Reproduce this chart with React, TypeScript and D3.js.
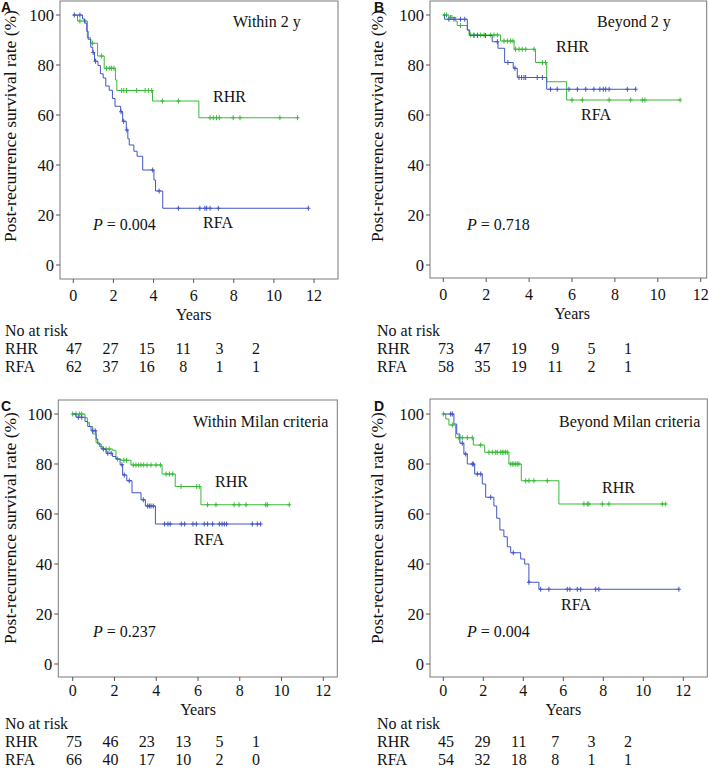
import React from "react";
import * as d3 from "d3";

// ---- data ----
// steps: [years, survival %] after each drop; censor: years of "+" marks
const aTitle = "Within 2 y";
const aP = "0.004";
const aRhrSteps: [number, number][] = [
	[0.21, 97.6], [0.7, 90.9], [0.86, 88.7], [1.21, 83.6], [1.54, 78.7],
	[2.1, 74.0], [2.17, 69.8], [3.95, 65.6], [6.26, 58.9],
];
const aRhrCensor = [0.33, 0.58, 0.96, 1.41, 1.66, 1.82, 1.91, 2.03, 2.41, 2.52, 2.65, 3.16, 3.58, 3.74, 3.91, 4.44, 5.24, 6.82, 6.98, 7.14, 7.28, 7.97, 8.31, 10.3, 11.18];
const aRfaSteps: [number, number][] = [
	[0.46, 98.4], [0.56, 96.8], [0.67, 93.5], [0.74, 90.3], [0.87, 87.1],
	[0.97, 85.0], [1.06, 81.5], [1.23, 79.8], [1.35, 76.5], [1.49, 74.8],
	[1.62, 71.6], [1.79, 69.9], [1.95, 66.6], [2.08, 63.5], [2.36, 61.3],
	[2.46, 57.5], [2.64, 54.0], [2.72, 50.5], [2.79, 48.0], [3.02, 45.5],
	[3.18, 43.5], [3.46, 38.0], [4.02, 34.0], [4.1, 29.6], [4.46, 22.7],
];
const aRfaCensor = [0.05, 0.33, 0.99, 1.11, 2.38, 2.51, 2.67, 3.96, 4.28, 5.24, 6.31, 6.56, 6.65, 6.82, 7.23, 11.72];
const aRiskRhr = [47, 27, 15, 11, 3, 2];
const aRiskRfa = [62, 37, 16, 8, 1, 1];

const bTitle = "Beyond 2 y";
const bP = "0.718";
const bRhrSteps: [number, number][] = [
	[0.26, 99.0], [0.58, 97.5], [0.65, 95.8], [1.12, 94.0], [1.2, 92.0],
	[2.67, 89.6], [3.3, 86.3], [4.3, 81.0], [4.82, 73.3], [5.75, 66.0],
];
const bRhrCensor = [0.05, 0.15, 0.34, 0.4, 0.8, 1.28, 1.43, 1.59, 1.74, 1.9, 2.21, 2.36, 2.52, 2.83, 2.99, 3.14, 3.25, 3.37, 3.53, 3.68, 3.84, 4.23, 4.62, 4.77, 6.0, 6.48, 7.73, 8.74, 9.28, 9.4, 11.04];
const bRfaSteps: [number, number][] = [
	[0.06, 98.3], [1.12, 94.0], [1.23, 91.8], [2.28, 89.3], [2.55, 86.7],
	[2.86, 81.0], [3.26, 78.7], [3.45, 75.0], [4.82, 70.3],
];
const bRfaCensor = [0.26, 0.5, 0.8, 1.0, 1.43, 1.59, 1.97, 2.52, 3.01, 3.34, 3.53, 3.65, 3.76, 3.84, 4.38, 4.62, 5.0, 5.31, 5.86, 6.25, 6.64, 7.02, 7.3, 7.46, 7.57, 7.73, 8.58, 8.97];
const bRiskRhr = [73, 47, 19, 9, 5, 1];
const bRiskRfa = [58, 35, 19, 11, 2, 1];

const cTitle = "Within Milan criteria";
const cP = "0.237";
const cRhrSteps: [number, number][] = [
	[0.59, 98.5], [0.7, 96.5], [0.8, 95.0], [0.96, 92.0], [1.12, 88.5],
	[1.28, 87.0], [1.44, 86.0], [1.9, 85.5], [2.07, 82.0], [2.31, 81.5],
	[2.79, 79.6], [4.28, 76.0], [4.91, 71.0], [6.14, 63.7],
];
const cRhrCensor = [0.0, 0.16, 0.32, 0.43, 1.6, 1.75, 2.15, 2.45, 2.58, 2.9, 3.03, 3.16, 3.27, 3.4, 3.56, 3.75, 3.99, 4.2, 4.47, 4.63, 4.79, 5.19, 5.94, 6.06, 6.46, 6.86, 7.73, 7.97, 8.3, 9.24, 9.32, 10.37];
const cRfaSteps: [number, number][] = [
	[0.16, 98.7], [0.59, 97.0], [0.72, 95.0], [0.88, 93.3], [1.12, 90.0],
	[1.2, 88.0], [1.36, 86.0], [1.6, 84.3], [1.91, 83.0], [2.07, 82.0],
	[2.27, 79.7], [2.39, 75.6], [2.59, 73.3], [2.84, 68.5], [3.27, 65.7],
	[3.48, 63.2], [3.96, 56.0],
];
const cRfaCensor = [0.27, 0.43, 0.96, 1.08, 1.47, 1.68, 1.84, 2.36, 2.47, 2.71, 3.38, 3.59, 3.67, 3.75, 3.86, 4.4, 4.56, 4.67, 5.2, 5.36, 5.76, 5.92, 6.3, 6.46, 6.7, 7.02, 7.15, 7.26, 7.37, 8.6, 8.84, 9.0];
const cRiskRhr = [75, 46, 23, 13, 5, 1];
const cRiskRfa = [66, 40, 17, 10, 2, 0];

const dTitle = "Beyond Milan criteria";
const dP = "0.004";
const dRhrSteps: [number, number][] = [
	[0.12, 98.0], [0.28, 95.6], [0.62, 90.5], [1.5, 87.6], [2.07, 84.7],
	[3.28, 80.0], [3.9, 73.3], [5.78, 64.0],
];
const dRhrCensor = [0.0, 0.45, 0.78, 0.95, 1.2, 1.45, 1.87, 2.28, 2.45, 2.62, 2.7, 2.87, 2.95, 3.03, 3.12, 3.2, 3.37, 3.45, 3.53, 3.62, 3.7, 3.78, 4.12, 4.28, 4.53, 5.2, 7.03, 7.2, 7.28, 7.95, 8.28, 10.95, 11.12];
const dRfaSteps: [number, number][] = [
	[0.53, 96.0], [0.67, 92.0], [0.83, 88.3], [1.03, 84.0], [1.2, 80.0],
	[1.57, 76.0], [1.95, 72.0], [2.12, 66.7], [2.53, 63.2], [2.67, 58.3],
	[2.83, 53.6], [3.03, 50.9], [3.2, 46.9], [3.37, 44.5], [3.87, 42.0],
	[4.07, 40.0], [4.28, 32.7], [4.78, 29.9],
];
const dRfaCensor = [0.37, 0.45, 0.95, 1.12, 1.45, 1.5, 1.7, 1.87, 2.37, 3.5, 4.28, 4.87, 5.28, 6.2, 6.33, 6.7, 6.87, 7.62, 7.78, 11.78];
const dRiskRhr = [45, 29, 11, 7, 3, 2];
const dRiskRfa = [54, 32, 18, 8, 1, 1];

const xTicks = [0, 2, 4, 6, 8, 10, 12];
const yTicks = [0, 20, 40, 60, 80, 100];

const GREEN = "#38ba38";
const BLUE = "#4155c6";
const SERIF = "'Liberation Serif', 'Times New Roman', serif";

// ---- layout (pixels) ----
const panels = [
	{
		letter: "A", title: aTitle, p: aP,
		rhr: { steps: aRhrSteps, censor: aRhrCensor }, rfa: { steps: aRfaSteps, censor: aRfaCensor },
		riskRhr: aRiskRhr, riskRfa: aRiskRfa,
		box: [60, 1, 338, 279], xr: [73.3, 314], yr: [265, 15],
		titleAt: [233, 27], rhrAt: [213, 102], rfaAt: [203, 228], pAt: [93, 230],
		letterAt: [1, 12], ylabAt: [10, 126],
		tickDy: 22, yearsDy: 41,
		tableX: [5, 74, 256], tableY: [336, 354, 372],
	},
	{
		letter: "B", title: bTitle, p: bP,
		rhr: { steps: bRhrSteps, censor: bRhrCensor }, rfa: { steps: bRfaSteps, censor: bRfaCensor },
		riskRhr: bRiskRhr, riskRfa: bRiskRfa,
		box: [430, 1, 706.7, 278], xr: [443.3, 700.7], yr: [265, 15],
		titleAt: [597, 27], rhrAt: [556, 52], rfaAt: [581, 120], pAt: [467, 230],
		letterAt: [374, 12], ylabAt: [377, 126],
		tickDy: 22, yearsDy: 41,
		tableX: [377, 446, 628], tableY: [336, 354, 372],
	},
	{
		letter: "C", title: cTitle, p: cP,
		rhr: { steps: cRhrSteps, censor: cRhrCensor }, rfa: { steps: cRfaSteps, censor: cRfaCensor },
		riskRhr: cRiskRhr, riskRfa: cRiskRfa,
		box: [58.3, 400, 337.3, 677], xr: [72.7, 323.3], yr: [664, 414],
		titleAt: [193, 427], rhrAt: [215, 487], rfaAt: [194, 545], pAt: [93, 637],
		letterAt: [1, 411], ylabAt: [10, 528],
		tickDy: 19, yearsDy: 38,
		tableX: [5, 74, 256], tableY: [729, 747, 765],
	},
	{
		letter: "D", title: dTitle, p: dP,
		rhr: { steps: dRhrSteps, censor: dRhrCensor }, rfa: { steps: dRfaSteps, censor: dRfaCensor },
		riskRhr: dRiskRhr, riskRfa: dRiskRfa,
		box: [430, 399, 707.3, 677], xr: [443.3, 683.3], yr: [664, 414],
		titleAt: [559, 427], rhrAt: [602, 493], rfaAt: [561, 610], pAt: [467, 637],
		letterAt: [374, 411], ylabAt: [377, 528],
		tickDy: 19, yearsDy: 38,
		tableX: [377, 446, 628], tableY: [729, 747, 765],
	},
];

function survivalAt(steps: [number, number][], t: number) {
	let s = 100;
	for (const [st, sv] of steps) if (st <= t) s = sv;
	return s;
}

const Curve = ({ steps, censor, color, x, y }) => {
	const end = Math.max(d3.max(censor) ?? 0, d3.max(steps, (d) => d[0]) ?? 0);
	const pts: [number, number][] = [[0, 100], ...steps, [end, steps[steps.length - 1][1]]];
	const line = d3
		.line<[number, number]>()
		.x((d) => x(d[0]))
		.y((d) => y(d[1]))
		.curve(d3.curveStepAfter);
	return (
		<g>
			<path d={line(pts) ?? ""} fill="none" stroke={color} strokeWidth={1} />
			{censor.map((c, i) => {
				const cx = x(c);
				const cy = y(survivalAt(steps, c));
				return (
					<path
						key={i}
						d={`M${cx},${cy - 2.5}V${cy + 2.5}M${cx - 2},${cy}H${cx + 2}`}
						stroke={color}
						strokeWidth={1}
					/>
				);
			})}
		</g>
	);
};

const Panel = ({ cfg }) => {
	const [l, t, r, b] = cfg.box;
	const x = d3.scaleLinear().domain([0, 12]).range(cfg.xr);
	const y = d3.scaleLinear().domain([0, 100]).range(cfg.yr);
	const col = d3.scaleLinear().domain([0, 5]).range([cfg.tableX[1], cfg.tableX[2]]);
	return (
		<g fontFamily={SERIF} fill="#111">
			<rect x={l} y={t} width={r - l} height={b - t} fill="none" stroke="#7a7a7a" strokeWidth={1} />
			{yTicks.map((v) => (
				<g key={v}>
					<line x1={l - 4} x2={l} y1={y(v)} y2={y(v)} stroke="#555" />
					<text x={l - 6} y={y(v)} dy="0.34em" textAnchor="end" fontSize={16.5}>{v}</text>
				</g>
			))}
			{xTicks.map((v) => (
				<g key={v}>
					<line x1={x(v)} x2={x(v)} y1={b} y2={b + 4} stroke="#555" />
					<text x={x(v)} y={b + cfg.tickDy} textAnchor="middle" fontSize={16}>{v}</text>
				</g>
			))}
			<text x={x(6)} y={b + cfg.yearsDy} textAnchor="middle" fontSize={16}>Years</text>
			<text
				transform={`translate(${cfg.ylabAt[0]},${cfg.ylabAt[1]}) rotate(-90)`}
				dy="0.35em"
				textAnchor="middle"
				fontSize={17.5}
			>
				Post-recurrence survival rate (%)
			</text>
			<text x={cfg.letterAt[0]} y={cfg.letterAt[1]} fontFamily="'Liberation Sans', Arial, sans-serif" fontWeight="bold" fontSize={14}>
				{cfg.letter}
			</text>
			<Curve steps={cfg.rhr.steps} censor={cfg.rhr.censor} color={GREEN} x={x} y={y} />
			<Curve steps={cfg.rfa.steps} censor={cfg.rfa.censor} color={BLUE} x={x} y={y} />
			<text x={cfg.titleAt[0]} y={cfg.titleAt[1]} fontSize={16}>{cfg.title}</text>
			<text x={cfg.rhrAt[0]} y={cfg.rhrAt[1]} fontSize={16}>RHR</text>
			<text x={cfg.rfaAt[0]} y={cfg.rfaAt[1]} fontSize={16}>RFA</text>
			<text x={cfg.pAt[0]} y={cfg.pAt[1]} fontSize={16}>
				<tspan fontStyle="italic">P</tspan> = {cfg.p}
			</text>
			<text x={cfg.tableX[0]} y={cfg.tableY[0]} fontSize={16}>No at risk</text>
			<text x={cfg.tableX[0]} y={cfg.tableY[1]} fontSize={16}>RHR</text>
			<text x={cfg.tableX[0]} y={cfg.tableY[2]} fontSize={16}>RFA</text>
			{cfg.riskRhr.map((n, i) => (
				<text key={"h" + i} x={col(i)} y={cfg.tableY[1]} textAnchor="middle" fontSize={16}>{n}</text>
			))}
			{cfg.riskRfa.map((n, i) => (
				<text key={"f" + i} x={col(i)} y={cfg.tableY[2]} textAnchor="middle" fontSize={16}>{n}</text>
			))}
		</g>
	);
};

export default function App() {
	return (
		<svg
			width={709}
			height={775}
			style={{ position: "absolute", left: 0, top: 0, background: "#fff" }}
		>
			{panels.map((p) => (
				<Panel key={p.letter} cfg={p} />
			))}
		</svg>
	);
}
